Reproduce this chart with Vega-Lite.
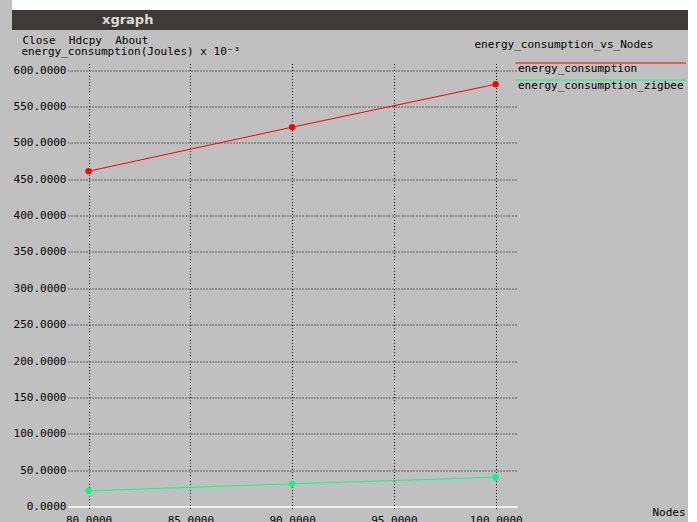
{
  "$schema": "https://vega.github.io/schema/vega-lite/v6.json",
  "background": "#c0c0c0",
  "padding": {"left": 12, "top": 0, "right": 0, "bottom": 0},
  "spacing": 4.5,
  "bounds": "full",
  "resolve": {"scale": {"color": "independent"}, "legend": {"color": "independent"}},
  "config": {
    "font": "DejaVu Sans Mono",
    "view": {"stroke": null},
    "axis": {
      "labelFont": "DejaVu Sans Mono",
      "labelFontSize": 11,
      "labelColor": "#000000",
      "titleFont": "DejaVu Sans Mono",
      "titleFontSize": 11,
      "titleFontWeight": "normal",
      "titleColor": "#000000",
      "labelOverlap": false,
      "labelFlush": false
    }
  },
  "vconcat": [
    {
      "width": 676,
      "height": 30,
      "data": {"values": [{"window": "xgraph"}]},
      "title": {
        "text": "xgraph",
        "orient": "top",
        "anchor": "start",
        "frame": "group",
        "offset": -33,
        "dx": 90,
        "baseline": "middle",
        "font": "DejaVu Sans",
        "fontSize": 13,
        "fontWeight": "bold",
        "color": "#dfdbd2"
      },
      "mark": {
        "type": "rect",
        "color": {
          "gradient": "linear",
          "x1": 0, "y1": 0, "x2": 0, "y2": 1,
          "stops": [
            {"offset": 0, "color": "#ffffff"},
            {"offset": 0.333, "color": "#ffffff"},
            {"offset": 0.334, "color": "#3c3b37"},
            {"offset": 1, "color": "#3c3b37"}
          ]
        }
      },
      "encoding": {}
    },
    {
      "spacing": 0,
      "bounds": "full",
      "resolve": {"scale": {"color": "independent"}, "legend": {"color": "independent"}},
      "hconcat": [
        {
          "width": 1,
          "height": 1,
          "data": {"values": [{"spacer": "left"}]},
          "mark": {"type": "rect", "opacity": 0},
          "encoding": {}
        },
        {
          "width": 449,
          "height": 447,
          "data": {
            "values": [
              {"nodes": 80, "energy": 461.1, "series": "energy_consumption"},
              {"nodes": 90, "energy": 521.6, "series": "energy_consumption"},
              {"nodes": 100, "energy": 580.7, "series": "energy_consumption"},
              {"nodes": 80, "energy": 21.6, "series": "energy_consumption_zigbee"},
              {"nodes": 90, "energy": 31.2, "series": "energy_consumption_zigbee"},
              {"nodes": 100, "energy": 40.3, "series": "energy_consumption_zigbee"}
            ]
          },
          "layer": [
            {
              "mark": {"type": "line", "strokeWidth": 1},
              "encoding": {
                "x": {
                  "field": "nodes",
                  "type": "quantitative",
                  "scale": {"domain": [78.99, 101.05], "nice": false, "zero": false},
                  "axis": {
                    "orient": "bottom",
                    "values": [80, 85, 90, 95, 100],
                    "format": ".4f",
                    "grid": true,
                    "gridColor": "#000000",
                    "gridDash": [1, 2],
                    "gridWidth": 1,
                    "ticks": false,
                    "tickSize": 0,
                    "domain": false,
                    "labelPadding": 4,
                    "title": "Nodes",
                    "titleX": 584,
                    "titleY": 2.3,
                    "titleAlign": "left",
                    "titleBaseline": "middle",
                    "titleAngle": 0
                  }
                },
                "y": {
                  "field": "energy",
                  "type": "quantitative",
                  "scale": {"domain": [-5.5, 609.2], "nice": false, "zero": false},
                  "axis": {
                    "orient": "left",
                    "values": [0, 50, 100, 150, 200, 250, 300, 350, 400, 450, 500, 550, 600],
                    "format": ".4f",
                    "grid": true,
                    "gridColor": {"condition": {"test": "datum.value === 0", "value": "#f4f4f4"}, "value": "#000000"},
                    "gridDash": {"condition": {"test": "datum.value === 0", "value": []}, "value": [1, 2]},
                    "gridWidth": {"condition": {"test": "datum.value === 0", "value": 2}, "value": 1},
                    "ticks": false,
                    "tickSize": 0,
                    "domain": false,
                    "labelPadding": 2,
                    "title": "energy_consumption(Joules) x 10⁻³",
                    "titleAngle": 0,
                    "titleX": -47,
                    "titleY": -12,
                    "titleAlign": "left",
                    "titleBaseline": "middle"
                  }
                },
                "color": {
                  "field": "series",
                  "type": "nominal",
                  "scale": {
                    "domain": ["energy_consumption", "energy_consumption_zigbee"],
                    "range": ["#ff0000", "#00ff7f"]
                  },
                  "legend": {
                    "orient": "none",
                    "legendX": 445,
                    "legendY": 0,
                    "title": null,
                    "symbolType": "M-1,-2H55.8",
                    "symbolSize": 36,
                    "symbolStrokeWidth": 1,
                    "labelOffset": -6,
                    "labelFont": "DejaVu Sans Mono",
                    "labelFontSize": 11,
                    "labelColor": "#000000",
                    "labelLimit": 300,
                    "rowPadding": 3,
                    "padding": 0
                  }
                }
              }
            },
            {
              "mark": {"type": "point", "filled": true, "size": 40, "opacity": 1, "strokeWidth": 0},
              "encoding": {
                "x": {
                  "field": "nodes",
                  "type": "quantitative",
                  "axis": {
                    "orient": "top",
                    "labels": false,
                    "ticks": false,
                    "domain": false,
                    "grid": false,
                    "title": "energy_consumption_vs_Nodes",
                    "titleX": 406,
                    "titleY": -18.7,
                    "titleAlign": "left",
                    "titleBaseline": "middle",
                    "titleAngle": 0
                  }
                },
                "y": {
                  "field": "energy",
                  "type": "quantitative",
                  "axis": {
                    "orient": "right",
                    "labels": false,
                    "ticks": false,
                    "domain": false,
                    "grid": false,
                    "title": "Close\u00a0\u00a0Hdcpy\u00a0\u00a0About",
                    "titleAngle": 0,
                    "titleX": -495,
                    "titleY": -23,
                    "titleAlign": "left",
                    "titleBaseline": "middle"
                  }
                },
                "color": {"field": "series", "type": "nominal", "legend": null}
              }
            }
          ],
          "resolve": {"axis": {"x": "independent", "y": "independent"}}
        }
      ]
    }
  ]
}
